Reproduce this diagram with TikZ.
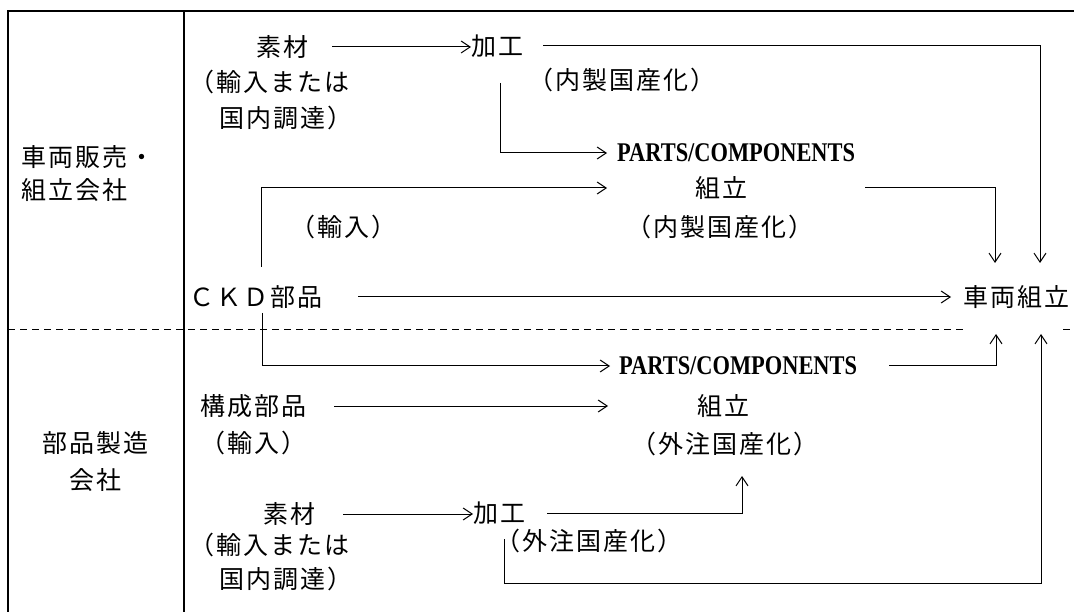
\documentclass[tikz,border=0pt]{standalone}
\usepackage{fontspec}
\usetikzlibrary{arrows.meta}
\newfontfamily\jp[LetterSpace=8]{Noto Sans CJK JP}
\newfontfamily\lat[FakeStretch=0.83]{Liberation Serif}
\tikzset{
  txt/.style={inner sep=0pt, anchor=west, font=\jp\fontsize{25}{25}\selectfont},
  ctxt/.style={inner sep=0pt, anchor=center, font=\jp\fontsize{25}{25}\selectfont},
  ltxt/.style={inner sep=0pt, anchor=west, font=\lat\bfseries\fontsize{27}{27}\selectfont},
  conn/.style={line width=1pt},
  arr/.style={line width=1pt, -{Straight Barb[length=9pt,width=12pt,line width=1pt]}},
  frame/.style={line width=1.4pt},
  sep/.style={line width=1pt, dash pattern=on 7pt off 5pt}
}
\begin{document}
\begin{tikzpicture}[x=1pt,y=-1pt]
\useasboundingbox (0,0) rectangle (1074,612);
% frame
\draw[frame] (8,612) -- (8,11) -- (1074,11);
\draw[frame] (184,11) -- (184,612);
\draw[sep] (8,330) -- (966,330);
\draw[sep] (1063,330) -- (1074,330);
% left labels
\node[txt] (hanA) at (21,157) {車両販売・};
\node[txt] (hanB) at (21,190) {組立会社};
\node[ctxt] (bhA) at (95,443) {部品製造};
\node[ctxt] (bhB) at (95,480) {会社};
% upper section
\node[txt] (sozai1) at (256,47) {素材};
\node[txt] (yun1a) at (189,82) {（輸入または};
\node[txt] (yun1b) at (219,118) {国内調達）};
\node[txt] (kako1) at (471,46) {加工};
\node[txt] (nai1) at (528,80) {（内製国産化）};
\node[ltxt] (parts1) at (617,153) {PARTS/COMPONENTS};
\node[txt] (kumi1) at (695,188) {組立};
\node[txt] (nai2) at (626,227) {（内製国産化）};
\node[txt] (yun2) at (290,227) {（輸入）};
\node[txt] (ckd) at (189,297) {ＣＫＤ部品};
\node[txt] (sharyo) at (963,297) {車両組立};
% lower section
\node[ltxt] (parts2) at (619,366) {PARTS/COMPONENTS};
\node[txt] (kosei) at (200,406) {構成部品};
\node[txt] (kumi2) at (697,406) {組立};
\node[txt] (yun3) at (200,443) {（輸入）};
\node[txt] (gai1) at (631,444) {（外注国産化）};
\node[txt] (sozai2) at (263,514) {素材};
\node[txt] (kako2) at (473,513) {加工};
\node[txt] (yun4a) at (189,545) {（輸入または};
\node[txt] (yun4b) at (219,579) {国内調達）};
\node[txt] (gai2) at (495,541) {（外注国産化）};
% coordinates
\coordinate (k1b) at (500,83);
\coordinate (ckdU) at (261,267);
\coordinate (ckdD) at (262,313);
\coordinate (inK1) at (607,188);
\coordinate (inP1) at (607,153);
\coordinate (inP2) at (610,366);
\coordinate (inK2) at (608,406);
\coordinate (inS1) at (1040,263);
\coordinate (inS2) at (995,263);
\coordinate (inS3) at (951,297);
\coordinate (upS1) at (996,334);
\coordinate (upS2) at (1041,334);
\coordinate (cornS2) at (1041,583);
\coordinate (k2b) at (504,539);
\coordinate (inG1) at (742,476);
% upper connectors
\draw[arr, shorten <=24pt] (sozai1.east) -- (sozai1.east -| kako1.west);
\draw[arr, shorten <=20pt] (kako1.east) -| (inS1);
\draw[arr] (k1b) |- (inP1);
\draw[arr] (ckdU) |- (inK1);
\draw[arr, shorten <=118pt] (kumi1.east) -| (inS2);
\draw[arr, shorten <=36pt] (ckd.east) -- (inS3);
% lower connectors
\draw[arr] (ckdD) |- (inP2);
\draw[arr, shorten <=32pt] (parts2.east) -| (upS1);
\draw[arr, shorten <=28pt] (kosei.east) -- (inK2);
\draw[arr, shorten <=28pt] (sozai2.east) -- (sozai2.east -| kako2.west);
\draw[arr, shorten <=22pt] (kako2.east) -| (inG1);
\draw[arr] (k2b) |- (cornS2) -- (upS2);
\end{tikzpicture}
\end{document}
